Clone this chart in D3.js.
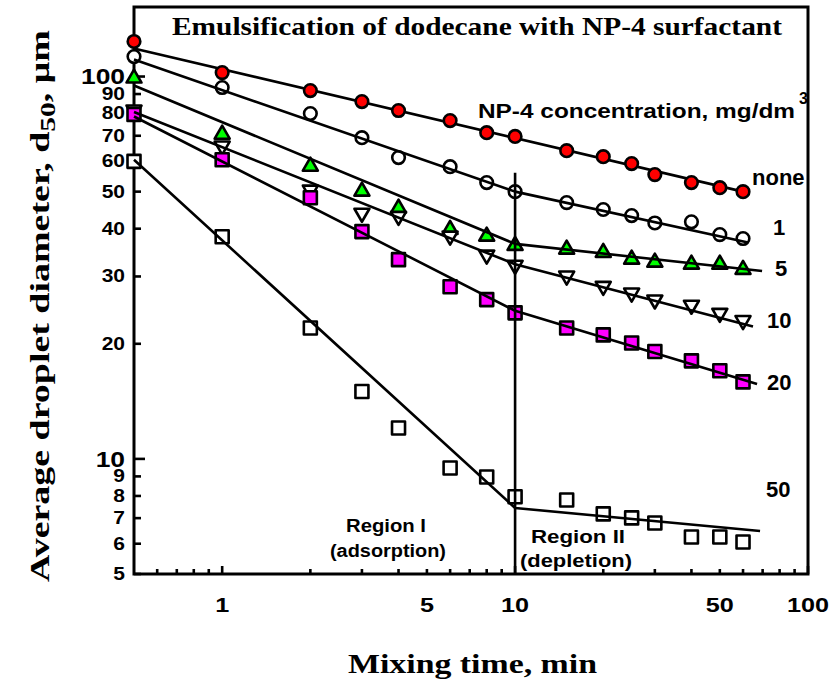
<!DOCTYPE html>
<html>
<head>
<meta charset="utf-8">
<script src="https://cdn.jsdelivr.net/npm/d3@7/dist/d3.min.js"></script>
<style>
  html, body { margin: 0; padding: 0; background: #fff; }
  svg { display: block; }
</style>
</head>
<body>
<svg id="chart" width="832" height="682"></svg>
<script>
// ---------------- DATA ----------------
const times = [0.5, 1, 2, 3, 4, 6, 8, 10, 15, 20, 25, 30, 40, 50, 60];
const seriesNames = ["none", "1", "5", "10", "20", "50"];
const dNone = [123.5, 102.4, 91.9, 86.0, 81.5, 76.7, 71.3, 69.7, 64.0, 61.7, 59.2, 55.4, 52.8, 51.2, 50.0];
const d1    = [112.8, 93.6, 80.0, 69.2, 61.4, 58.1, 52.8, 50.0, 46.8, 44.9, 43.3, 41.4, 41.7, 38.6, 37.7];
const d5    = [100.0, 71.3, 58.8, 50.6, 45.7, 40.2, 38.6, 36.5, 35.7, 35.0, 33.6, 33.0, 32.6, 32.6, 31.6];
const d10   = [81.0, 65.2, 50.0, 43.5, 42.7, 37.9, 33.8, 31.8, 29.8, 28.0, 26.9, 25.8, 25.0, 23.8, 22.8];
const d20   = [79.6, 60.6, 48.2, 39.3, 33.2, 28.2, 26.1, 24.1, 22.0, 21.1, 20.1, 19.1, 18.05, 17.0, 15.9];
const d50   = [60.0, 38.1, 22.0, 15.0, 12.05, 9.47, 8.97, 7.96, 7.81, 7.18, 7.01, 6.80, 6.25, 6.25, 6.06];

// fitted lines (time, diameter) – region I to 10 min, region II after
const fitNone = [[0.5, 118.4], [62, 49.7]];
const fit1    = [[0.5, 110.8], [10, 50.0], [62.4, 36.8]];
const fit5    = [[0.5, 94.7], [10, 36.5], [69.7, 31.0]];
const fit10   = [[0.5, 80.8], [10, 32.3], [64.9, 22.2]];
const fit20   = [[0.5, 78.6], [10, 24.4], [67, 15.7]];
const fit50   = [[0.5, 60.6], [10, 7.44], [68.6, 6.48]];

const xDomain = [0.5, 100];
const yDomain = [5, 152];
const xMajorTicks = [1, 10, 100];
const xMinorTicks = [0.6, 0.7, 0.8, 0.9, 2, 3, 4, 5, 6, 7, 8, 9, 20, 30, 40, 50, 60, 70, 80, 90];
const xTickLabels = [1, 5, 10, 50, 100];
const yMajorTicks = [10, 100];
const yMinorTicks = [5, 6, 7, 8, 9, 20, 30, 40, 50, 60, 70, 80, 90];
const yTickLabels = [5, 6, 7, 8, 9, 10, 20, 30, 40, 50, 60, 70, 80, 90, 100];
const dividerTime = 10;
const dividerTop = 56;

const titleText = "Emulsification of dodecane with NP-4 surfactant";
const xTitle = "Mixing time, min";
const legendTitle = "NP-4 concentration, mg/dm";

// ---------------- SETUP ----------------
const SANS = "'Liberation Sans', Arial, Helvetica, sans-serif";
const SERIF = "'Liberation Serif', 'Times New Roman', Times, serif";
const svg = d3.select("#chart");
const x = d3.scaleLog().domain(xDomain).range([134, 808]);
const y = d3.scaleLog().domain(yDomain).range([574, 7]);

const series = [
  {name: "none", data: dNone, fit: fitNone, shape: "circle", fill: "#FF0000", lineUnder: true, lx: 752, ly: 185},
  {name: "1",    data: d1,    fit: fit1,    shape: "circle", fill: "#FFFFFF", lx: 773, ly: 235},
  {name: "5",    data: d5,    fit: fit5,    shape: "triUp",  fill: "#00FF00", lx: 775, ly: 276},
  {name: "10",   data: d10,   fit: fit10,   shape: "triDown",fill: "#FFFFFF", lx: 767, ly: 328},
  {name: "20",   data: d20,   fit: fit20,   shape: "square", fill: "#FF00FF", lx: 767, ly: 390},
  {name: "50",   data: d50,   fit: fit50,   shape: "square", fill: "#FFFFFF", lx: 766, ly: 497}
];

function markerPath(shape) {
  if (shape === "circle") return d3.symbol().type(d3.symbolCircle).size(Math.PI * 6.3 * 6.3)();
  if (shape === "square") return "M-6.5,-6.5H6.5V6.5H-6.5Z";
  if (shape === "triUp") return "M0,-7L7.5,6L-7.5,6Z";
  if (shape === "triDown") return "M0,7L7.5,-6L-7.5,-6Z";
}

const lineGen = d3.line().x(d => x(d[0])).y(d => y(d[1]));

// ---------------- FRAME & AXES ----------------
const axisG = svg.append("g");
// ticks (inside)
axisG.selectAll(".xmaj").data(xMajorTicks).join("line")
  .attr("x1", d => x(d)).attr("x2", d => x(d)).attr("y1", y(5)).attr("y2", y(5) - 8)
  .attr("stroke", "#000").attr("stroke-width", 2.6);
axisG.selectAll(".xmin").data(xMinorTicks).join("line")
  .attr("x1", d => x(d)).attr("x2", d => x(d)).attr("y1", y(5)).attr("y2", y(5) - 5)
  .attr("stroke", "#000").attr("stroke-width", 2.6);
axisG.selectAll(".ymaj").data(yMajorTicks).join("line")
  .attr("x1", x(0.5)).attr("x2", x(0.5) + 11).attr("y1", d => y(d)).attr("y2", d => y(d))
  .attr("stroke", "#000").attr("stroke-width", 2.6);
axisG.selectAll(".ymin").data(yMinorTicks).join("line")
  .attr("x1", x(0.5)).attr("x2", x(0.5) + 7).attr("y1", d => y(d)).attr("y2", d => y(d))
  .attr("stroke", "#000").attr("stroke-width", 2.6);

// frame
axisG.append("rect")
  .attr("x", x(xDomain[0])).attr("y", y(yDomain[1]))
  .attr("width", x(xDomain[1]) - x(xDomain[0])).attr("height", y(yDomain[0]) - y(yDomain[1]))
  .attr("fill", "none").attr("stroke", "#000").attr("stroke-width", 3);

// tick labels
svg.append("g").selectAll("text").data(xTickLabels).join("text")
  .attr("transform", d => `translate(${x(d)},612) scale(1.2,1)`)
  .attr("text-anchor", "middle")
  .attr("font-family", SANS).attr("font-weight", "bold").attr("font-size", 21)
  .text(d => d);

svg.append("g").selectAll("text").data(yTickLabels).join("text")
  .attr("transform", d => `translate(125,${y(d)}) scale(1.2,1)`)
  .attr("text-anchor", "end").attr("dominant-baseline", "central")
  .attr("font-family", SANS).attr("font-weight", "bold")
  .attr("font-size", d => yMajorTicks.includes(d) ? 22 : 17.5)
  .text(d => d);

// ---------------- SERIES ----------------
const plotG = svg.append("g");
// red line under red markers
series.filter(s => s.lineUnder).forEach(s => {
  plotG.append("path").attr("d", lineGen(s.fit)).attr("fill", "none")
    .attr("stroke", "#000").attr("stroke-width", 2.6);
});
series.forEach(s => {
  plotG.append("g").selectAll("path").data(s.data.map((v, i) => [times[i], v])).join("path")
    .attr("d", markerPath(s.shape))
    .attr("transform", d => `translate(${x(d[0])},${y(d[1])})`)
    .attr("fill", s.fill).attr("stroke", "#000").attr("stroke-width", 2.6)
    .attr("stroke-linejoin", "round");
});
series.filter(s => !s.lineUnder).forEach(s => {
  plotG.append("path").attr("d", lineGen(s.fit)).attr("fill", "none")
    .attr("stroke", "#000").attr("stroke-width", 2.6).attr("stroke-linejoin", "round");
});
// divider line at 10 min
plotG.append("line")
  .attr("x1", x(dividerTime)).attr("x2", x(dividerTime))
  .attr("y1", y(yDomain[0])).attr("y2", y(dividerTop))
  .attr("stroke", "#000").attr("stroke-width", 2.6);

// series labels
svg.append("g").selectAll("text").data(series).join("text")
  .attr("x", d => d.lx).attr("y", d => d.ly)
  .attr("font-family", SANS).attr("font-weight", "bold").attr("font-size", 22)
  .text(d => d.name);

// legend title
svg.append("text").attr("x", 478).attr("y", 118)
  .attr("font-family", SANS).attr("font-weight", "bold").attr("font-size", 20)
  .attr("textLength", 317).attr("lengthAdjust", "spacingAndGlyphs")
  .text(legendTitle);
svg.append("text").attr("x", 799).attr("y", 104)
  .attr("font-family", SANS).attr("font-weight", "bold").attr("font-size", 16)
  .text("3");

// region labels
const regionLabels = [
  {t: "Region I", cx: 386, y: 532, w: 80},
  {t: "(adsorption)", cx: 388, y: 557, w: 116},
  {t: "Region II", cx: 578, y: 543, w: 94},
  {t: "(depletion)", cx: 576, y: 567, w: 112}
];
svg.append("g").selectAll("text").data(regionLabels).join("text")
  .attr("x", d => d.cx - d.w / 2).attr("y", d => d.y)
  .attr("font-family", SANS).attr("font-weight", "bold").attr("font-size", 17.5)
  .attr("textLength", d => d.w).attr("lengthAdjust", "spacingAndGlyphs")
  .text(d => d.t);

// ---------------- TITLES ----------------
svg.append("text").attr("x", 172).attr("y", 35)
  .attr("font-family", SERIF).attr("font-weight", "bold").attr("font-size", 25)
  .attr("textLength", 610).attr("lengthAdjust", "spacingAndGlyphs")
  .text(titleText);

svg.append("text").attr("x", 348).attr("y", 673)
  .attr("font-family", SERIF).attr("font-weight", "bold").attr("font-size", 28)
  .attr("textLength", 249).attr("lengthAdjust", "spacingAndGlyphs")
  .text(xTitle);

// y title with subscript, rotated and stretched to fit
const yt = svg.append("text")
  .attr("font-family", SERIF).attr("font-weight", "bold").attr("font-size", 27)
  .attr("text-anchor", "middle");
yt.append("tspan").text("Average droplet diameter, d");
yt.append("tspan").attr("font-size", 21).attr("dy", 6).text("50");
yt.append("tspan").attr("dy", -6).text(", \u03bcm");
const ytLen = yt.node().getComputedTextLength();
const ytScale = 552 / ytLen;
yt.attr("transform", `translate(49,306) rotate(-90) scale(${ytScale},1)`);
</script>
</body>
</html>
